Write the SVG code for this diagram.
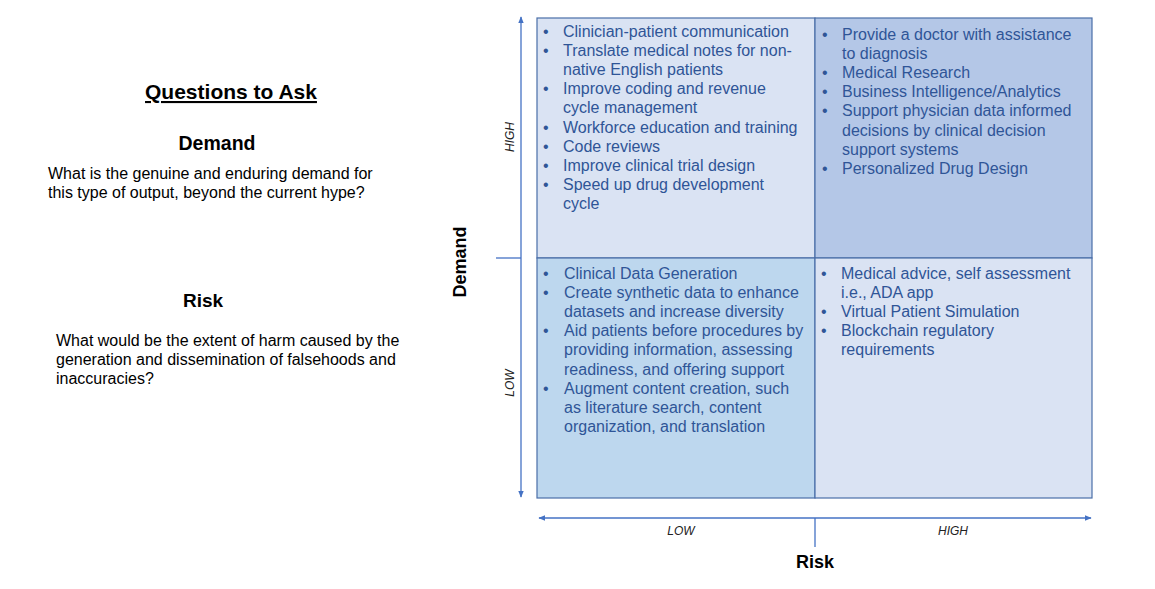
<svg xmlns="http://www.w3.org/2000/svg" width="1155" height="589" viewBox="0 0 1155 589">
<style>
.q{font-family:"Liberation Sans",Arial,sans-serif;font-size:16px;fill:#2F5597;}
.b{font-family:"Liberation Sans",Arial,sans-serif;font-size:16px;fill:#000;}
.h{font-family:"Liberation Sans",Arial,sans-serif;font-weight:bold;fill:#000;text-anchor:middle;}
.ax{font-family:"Liberation Sans",Arial,sans-serif;font-size:12px;font-style:italic;fill:#222;text-anchor:middle;}
.cell{stroke:#4A6EA8;stroke-width:1.2;}
.axis{stroke:#4472C4;stroke-width:1.3;fill:none;}
</style>
<defs>
<marker id="ah" viewBox="0 0 10 10" refX="9" refY="5" markerWidth="7" markerHeight="7" orient="auto-start-reverse" markerUnits="userSpaceOnUse">
<path d="M0,1 L10,5 L0,9 Z" fill="#4472C4"/>
</marker>
</defs>
<rect width="1155" height="589" fill="#fff"/>

<g id="questions">
<text class="h" x="231" y="99" font-size="21" text-decoration="underline">Questions to Ask</text>
<text class="h" x="217" y="150" font-size="19.5">Demand</text>
<text class="b" x="48" y="179">What is the genuine and enduring demand for</text>
<text class="b" x="48" y="198">this type of output, beyond the current hype?</text>
<text class="h" x="203" y="307" font-size="19">Risk</text>
<text class="b" x="56" y="346">What would be the extent of harm caused by the</text>
<text class="b" x="56" y="365">generation and dissemination of falsehoods and</text>
<text class="b" x="56" y="384">inaccuracies?</text>
</g>

<g id="q-high-demand-low-risk">
<rect class="cell" x="537" y="18" width="278" height="240" fill="#DAE3F3"/>
<text class="q">
<tspan x="543" y="37">•</tspan><tspan x="563" y="37">Clinician-patient communication</tspan>
<tspan x="543" y="56">•</tspan><tspan x="563" y="56">Translate medical notes for non-</tspan>
<tspan x="563" y="75">native English patients</tspan>
<tspan x="543" y="94">•</tspan><tspan x="563" y="94">Improve coding and revenue</tspan>
<tspan x="563" y="113">cycle management</tspan>
<tspan x="543" y="133">•</tspan><tspan x="563" y="133">Workforce education and training</tspan>
<tspan x="543" y="152">•</tspan><tspan x="563" y="152">Code reviews</tspan>
<tspan x="543" y="171">•</tspan><tspan x="563" y="171">Improve clinical trial design</tspan>
<tspan x="543" y="190">•</tspan><tspan x="563" y="190">Speed up drug development</tspan>
<tspan x="563" y="209">cycle</tspan>
</text>
</g>

<g id="q-high-demand-high-risk">
<rect class="cell" x="815" y="18" width="277" height="240" fill="#B4C7E7"/>
<text class="q">
<tspan x="822" y="40">•</tspan><tspan x="842" y="40">Provide a doctor with assistance</tspan>
<tspan x="842" y="59">to diagnosis</tspan>
<tspan x="822" y="78">•</tspan><tspan x="842" y="78">Medical Research</tspan>
<tspan x="822" y="97">•</tspan><tspan x="842" y="97">Business Intelligence/Analytics</tspan>
<tspan x="822" y="116">•</tspan><tspan x="842" y="116">Support physician data informed</tspan>
<tspan x="842" y="136">decisions by clinical decision</tspan>
<tspan x="842" y="155">support systems</tspan>
<tspan x="822" y="174">•</tspan><tspan x="842" y="174">Personalized Drug Design</tspan>
</text>
</g>

<g id="q-low-demand-low-risk">
<rect class="cell" x="537" y="258" width="278" height="240" fill="#BDD7EE"/>
<text class="q">
<tspan x="543" y="279">•</tspan><tspan x="564" y="279">Clinical Data Generation</tspan>
<tspan x="543" y="298">•</tspan><tspan x="564" y="298">Create synthetic data to enhance</tspan>
<tspan x="564" y="317">datasets and increase diversity</tspan>
<tspan x="543" y="336">•</tspan><tspan x="564" y="336">Aid patients before procedures by</tspan>
<tspan x="564" y="355">providing information, assessing</tspan>
<tspan x="564" y="375">readiness, and offering support</tspan>
<tspan x="543" y="394">•</tspan><tspan x="564" y="394">Augment content creation, such</tspan>
<tspan x="564" y="413">as literature search, content</tspan>
<tspan x="564" y="432">organization, and translation</tspan>
</text>
</g>

<g id="q-low-demand-high-risk">
<rect class="cell" x="815" y="258" width="277" height="240" fill="#DAE3F3"/>
<text class="q">
<tspan x="821" y="279">•</tspan><tspan x="841" y="279">Medical advice, self assessment</tspan>
<tspan x="841" y="298">i.e., ADA app</tspan>
<tspan x="821" y="317">•</tspan><tspan x="841" y="317">Virtual Patient Simulation</tspan>
<tspan x="821" y="336">•</tspan><tspan x="841" y="336">Blockchain regulatory</tspan>
<tspan x="841" y="355">requirements</tspan>
</text>
</g>

<g id="connectors">
<line class="axis" x1="521" y1="497" x2="521" y2="17" marker-start="url(#ah)" marker-end="url(#ah)"/>
<line class="axis" x1="496" y1="258" x2="521" y2="258" stroke="#4A6EA8"/>
<line class="axis" x1="539" y1="518" x2="1091" y2="518" marker-start="url(#ah)" marker-end="url(#ah)"/>
<line class="axis" x1="815" y1="518" x2="815" y2="547" stroke="#4A6EA8"/>
</g>

<g id="axis-labels">
<text class="ax" transform="translate(514,137) rotate(-90)">HIGH</text>
<text class="ax" transform="translate(514,383) rotate(-90)">LOW</text>
<text class="h" font-size="18" transform="translate(466,262) rotate(-90)">Demand</text>
<text class="ax" x="681" y="535">LOW</text>
<text class="ax" x="953" y="535">HIGH</text>
<text class="h" font-size="18" x="815" y="568">Risk</text>
</g>
</svg>
